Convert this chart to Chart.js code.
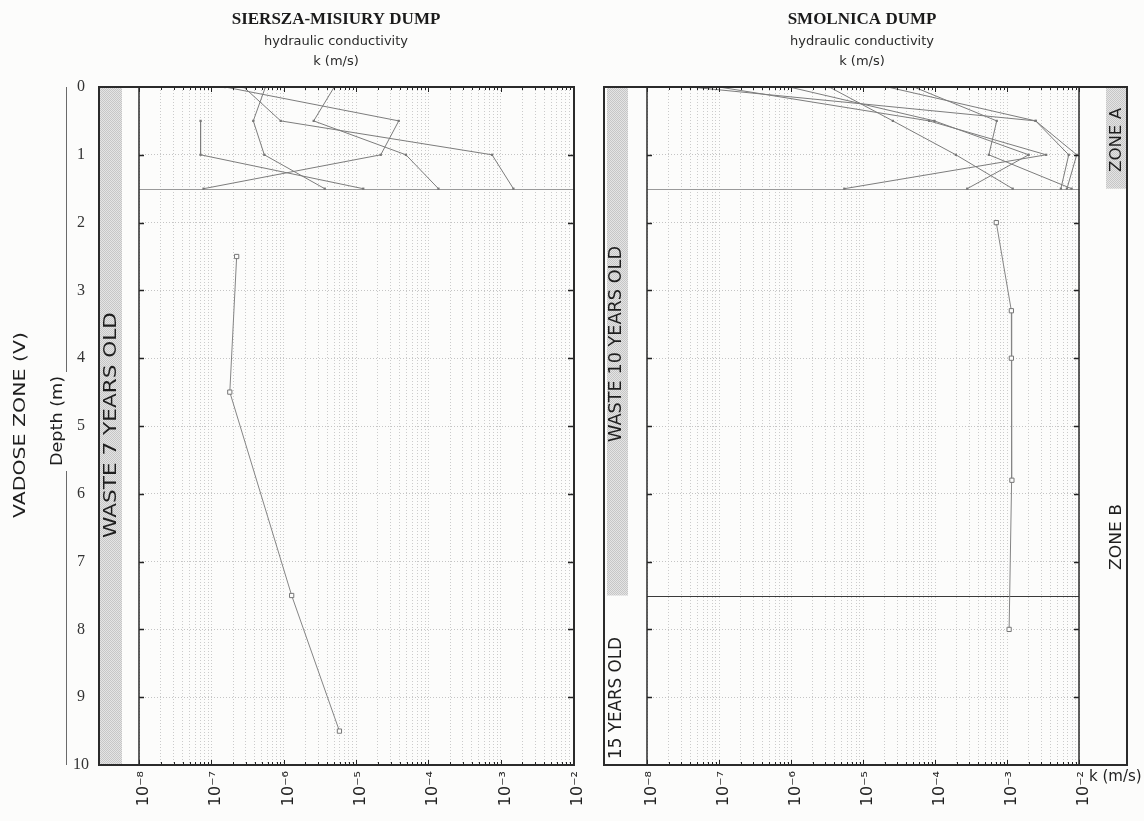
<!DOCTYPE html>
<html>
<head>
<meta charset="utf-8">
<script src="https://cdn.jsdelivr.net/npm/chart.js@4"></script>
<style>
  html, body { margin: 0; padding: 0; background: #fcfcfb; }
  #wrap { position: relative; width: 1144px; height: 821px; overflow: hidden; }
  canvas { position: absolute; top: 0; }
  #siersza { left: 0; }
  #smolnica { left: 590px; }
</style>
</head>
<body>
<div id="wrap">
  <canvas id="siersza" width="590" height="821"></canvas>
  <canvas id="smolnica" width="554" height="821"></canvas>
</div>
<script>
// ---- axis ranges and tick labels ----
const K_MIN = 1e-8;
const K_MAX = 1e-2;
const decadeLabels = ['10\u207B\u2078', '10\u207B\u2077', '10\u207B\u2076', '10\u207B\u2075', '10\u207B\u2074', '10\u207B\u00B3', '10\u207B\u00B2'];
const depthTicks = [0, 1, 2, 3, 4, 5, 6, 7, 8, 9, 10];
const depthLabels = ['0', '1', '2', '3', '4', '5', '6', '7', '8', '9', '10'];

// ---- Siersza-Misiury dump: shallow profiles (depth m -> k m/s) ----
const shallowDepths = [0, 0.5, 1, 1.5];
const sierszaP1 = [1.55e-7, 3.9e-5, 2.2e-5, 7.8e-8];
const sierszaP2 = [null, 7.1e-8, 7.1e-8, 1.26e-5];
const sierszaP3 = [5.6e-7, 3.8e-7, 5.4e-7, 3.7e-6];
const sierszaP4 = [5.0e-6, 2.6e-6, 4.9e-5, 1.38e-4];
const sierszaP5 = [2.8e-7, 9.1e-7, 7.6e-4, 1.5e-3];
// deep borehole
const sierszaDeepDepths = [2.5, 4.5, 7.5, 9.5];
const sierszaDeepK = [2.24e-7, 1.8e-7, 1.29e-6, 5.9e-6];

// ---- Smolnica dump: shallow profiles ----
const smolnicaP1 = [4.0e-8, 2.5e-3, 9.3e-3, 6.8e-3];
const smolnicaP2 = [1.0e-7, 8.3e-5, 3.5e-3, 5.5e-6];
const smolnicaP3 = [9.5e-7, 9.8e-5, 2.0e-3, 2.8e-4];
const smolnicaP4 = [3.4e-6, 2.6e-5, 1.95e-4, 1.2e-3];
const smolnicaP5 = [2.2e-5, 2.5e-3, 7.2e-3, 5.6e-3];
const smolnicaP6 = [5.1e-5, 7.2e-4, 5.6e-4, 7.9e-3];
// deep borehole
const smolnicaDeepDepths = [2.0, 3.3, 4.0, 5.8, 8.0];
const smolnicaDeepK = [7.1e-4, 1.15e-3, 1.15e-3, 1.17e-3, 1.07e-3];

// ---- helpers ----
function toPoints(depths, ks) {
  const pts = [];
  depths.forEach((d, i) => { if (ks[i] != null) pts.push({ x: ks[i], y: d }); });
  return pts;
}

function shallowSet(ks) {
  return {
    data: toPoints(shallowDepths, ks),
    showLine: true,
    borderColor: '#7c7c7c',
    borderWidth: 1,
    pointStyle: 'rect',
    pointRadius: 1.6,
    pointBackgroundColor: '#777',
    pointBorderColor: '#777',
    pointBorderWidth: 0
  };
}

function deepSet(depths, ks) {
  return {
    data: toPoints(depths, ks),
    showLine: true,
    borderColor: '#858585',
    borderWidth: 1,
    pointStyle: 'rect',
    pointRadius: 3,
    pointBackgroundColor: '#fcfcfb',
    pointBorderColor: '#777',
    pointBorderWidth: 1
  };
}

function kAxis() {
  return {
    type: 'logarithmic',
    position: 'bottom',
    min: K_MIN,
    max: K_MAX,
    afterBuildTicks(scale) {
      const t = [];
      for (let e = -8; e <= -2; e++) {
        for (let m = 1; m <= 9; m++) {
          if (e === -2 && m > 1) break;
          t.push({ value: m * Math.pow(10, e), major: m === 1 });
        }
      }
      scale.ticks = t;
    },
    afterFit(scale) {
      scale.height = 56;
      scale.paddingLeft = 0;
      scale.paddingRight = 0;
    },
    ticks: {
      autoSkip: false,
      minRotation: 90,
      maxRotation: 90,
      padding: 6,
      labelOffset: 5,
      color: '#222',
      font: { family: 'DejaVu Sans', size: 16 },
      callback(v) {
        const e = Math.round(Math.log10(v));
        return Math.abs(v / Math.pow(10, e) - 1) < 1e-6 ? decadeLabels[e + 8] : '';
      }
    },
    grid: { color: '#cbcbcb', lineWidth: 1, drawTicks: false },
    border: { display: false, dash: [1, 2] }
  };
}

function depthAxis(showLabels, width) {
  return {
    type: 'linear',
    min: 0,
    max: 10,
    reverse: true,
    afterBuildTicks(scale) { scale.ticks = depthTicks.map(v => ({ value: v })); },
    afterFit(scale) {
      scale.width = width;
      scale.paddingTop = 0;
      scale.paddingBottom = 0;
    },
    ticks: {
      display: showLabels,
      padding: 50,
      crossAlign: 'center',
      color: '#333',
      font: { family: 'Liberation Serif', size: 16 },
      callback: (v, i) => depthLabels[i]
    },
    grid: {
      color: c => (c.tick && (c.tick.value === 0 || c.tick.value === 10)) ? 'rgba(0,0,0,0)' : '#c4c4c4',
      lineWidth: 1,
      drawTicks: false
    },
    border: { display: false, dash: [1, 2] }
  };
}

function stipple(ctx) {
  const c = document.createElement('canvas');
  c.width = 2; c.height = 2;
  const g = c.getContext('2d');
  g.fillStyle = '#e4e4e4'; g.fillRect(0, 0, 2, 2);
  g.fillStyle = '#c6c6c6'; g.fillRect(0, 0, 1, 1); g.fillRect(1, 1, 1, 1);
  return ctx.createPattern(c, 'repeat');
}

// vertical (bottom-to-top) text, optionally stretched along its reading direction to a given length
function vText(ctx, text, cx, cy, font, length) {
  ctx.save();
  ctx.translate(cx, cy);
  ctx.rotate(-Math.PI / 2);
  ctx.font = font;
  ctx.fillStyle = '#1e1e1e';
  ctx.textAlign = 'center';
  ctx.textBaseline = 'middle';
  if (length) {
    const w = ctx.measureText(text).width;
    ctx.scale(length / w, 1);
  }
  ctx.fillText(text, 0, 0);
  ctx.restore();
}

function headings(ctx, cx, title) {
  ctx.save();
  ctx.fillStyle = '#1a1a1a';
  ctx.textAlign = 'center';
  ctx.textBaseline = 'middle';
  ctx.font = 'bold 17px "Liberation Serif"';
  ctx.fillText(title, cx, 20);
  ctx.font = '13px "DejaVu Sans"';
  ctx.fillStyle = '#2a2a2a';
  ctx.fillText('hydraulic conductivity', cx, 42);
  ctx.fillText('k (m/s)', cx, 62);
  ctx.restore();
}

function hLine(ctx, a, y, color, w) {
  ctx.save();
  ctx.strokeStyle = color;
  ctx.lineWidth = w;
  ctx.beginPath();
  ctx.moveTo(a.left, y);
  ctx.lineTo(a.right, y);
  ctx.stroke();
  ctx.restore();
}

// small inward tick marks on all four edges of the plot area
function innerTicks(chart) {
  const { ctx, chartArea: a, scales } = chart;
  ctx.save();
  ctx.strokeStyle = '#222';
  ctx.beginPath();
  depthTicks.forEach(v => {
    if (v === 0 || v === 10) return;
    const y = Math.round(scales.y.getPixelForValue(v)) + 0.5;
    ctx.moveTo(a.left, y); ctx.lineTo(a.left + 5, y);
    ctx.moveTo(a.right, y); ctx.lineTo(a.right - 5, y);
  });
  ctx.lineWidth = 1.5;
  ctx.stroke();
  ctx.beginPath();
  scales.x.ticks.forEach(t => {
    const x = Math.round(scales.x.getPixelForValue(t.value)) + 0.5;
    const len = t.major ? 5 : 3;
    ctx.moveTo(x, a.bottom); ctx.lineTo(x, a.bottom - len);
    ctx.moveTo(x, a.top); ctx.lineTo(x, a.top + len);
  });
  ctx.lineWidth = 1;
  ctx.stroke();
  ctx.restore();
}

function frame(ctx, x0, x1, top, bottom, innerXs) {
  ctx.save();
  ctx.strokeStyle = '#2b2b2b';
  ctx.lineWidth = 2;
  ctx.strokeRect(x0, top, x1 - x0, bottom - top);
  ctx.lineWidth = 1.5;
  ctx.beginPath();
  innerXs.forEach(x => { ctx.moveTo(x, top); ctx.lineTo(x, bottom); });
  ctx.stroke();
  ctx.restore();
}

// ---- left panel decorations ----
const sierszaDecor = {
  id: 'sierszaDecor',
  beforeDraw(chart) {
    const { ctx, scales } = chart;
    ctx.save();
    ctx.fillStyle = '#fcfcfb';
    ctx.fillRect(0, 0, chart.width, chart.height);
    ctx.fillStyle = stipple(ctx);
    const y0 = scales.y.getPixelForValue(0), y1 = scales.y.getPixelForValue(10);
    ctx.fillRect(100, y0, 22, y1 - y0);
    ctx.restore();
  },
  beforeDatasetsDraw(chart) {
    const { ctx, chartArea: a, scales } = chart;
    hLine(ctx, a, Math.round(scales.y.getPixelForValue(1.5)) + 0.5, '#9a9a9a', 1);
  },
  afterDraw(chart) {
    const { ctx, chartArea: a, scales } = chart;
    const top = scales.y.getPixelForValue(0), bottom = scales.y.getPixelForValue(10);
    innerTicks(chart);
    frame(ctx, 99, a.right + 1, top, bottom, [a.left]);
    vText(ctx, 'WASTE 7 YEARS OLD', 111, 425, '18px "DejaVu Sans"', 226);
    vText(ctx, 'VADOSE ZONE (V)', 21, 425, '16px "DejaVu Sans"', 186);
    vText(ctx, 'Depth (m)', 58, 421, '15px "DejaVu Sans"', 90);
    ctx.save();
    ctx.strokeStyle = '#6a6a6a';
    ctx.lineWidth = 1;
    ctx.beginPath();
    ctx.moveTo(66.5, top); ctx.lineTo(66.5, 372);
    ctx.moveTo(66.5, 471); ctx.lineTo(66.5, bottom);
    ctx.stroke();
    ctx.restore();
    headings(ctx, 336, 'SIERSZA-MISIURY DUMP');
  }
};

// ---- right panel decorations ----
const smolnicaDecor = {
  id: 'smolnicaDecor',
  beforeDraw(chart) {
    const { ctx, scales } = chart;
    ctx.save();
    ctx.fillStyle = '#fcfcfb';
    ctx.fillRect(0, 0, chart.width, chart.height);
    ctx.fillStyle = stipple(ctx);
    const y0 = scales.y.getPixelForValue(0);
    const y75 = scales.y.getPixelForValue(7.5);
    const y15 = scales.y.getPixelForValue(1.5);
    ctx.fillRect(17, y0, 21, y75 - y0);
    ctx.fillRect(516, y0, 21, y15 - y0);
    ctx.restore();
  },
  beforeDatasetsDraw(chart) {
    const { ctx, chartArea: a, scales } = chart;
    hLine(ctx, a, Math.round(scales.y.getPixelForValue(1.5)) + 0.5, '#9a9a9a', 1);
    hLine(ctx, a, Math.round(scales.y.getPixelForValue(7.5)) + 0.5, '#3a3a3a', 1.2);
  },
  afterDraw(chart) {
    const { ctx, chartArea: a, scales } = chart;
    const top = scales.y.getPixelForValue(0), bottom = scales.y.getPixelForValue(10);
    innerTicks(chart);
    frame(ctx, 14, 537, top, bottom, [a.left, a.right]);
    vText(ctx, 'WASTE 10 YEARS OLD', 27, 344, '17px "DejaVu Sans"', 196);
    vText(ctx, '15 YEARS OLD', 27, 698, '17px "DejaVu Sans"', 122);
    vText(ctx, 'ZONE A', 527, 140, '16px "DejaVu Sans"', 64);
    vText(ctx, 'ZONE B', 527, 537, '16px "DejaVu Sans"', 66);
    ctx.save();
    ctx.fillStyle = '#222';
    ctx.font = '15px "DejaVu Sans"';
    ctx.textAlign = 'left';
    ctx.textBaseline = 'middle';
    ctx.fillText('k (m/s)', 499, 777);
    ctx.restore();
    headings(ctx, 272, 'SMOLNICA DUMP');
  }
};

const baseOptions = (padRight, yAxis) => ({
  responsive: false,
  animation: false,
  events: [],
  layout: { padding: { top: 87, right: padRight, bottom: 0, left: 0 } },
  scales: { x: kAxis(), y: yAxis },
  plugins: { legend: { display: false }, tooltip: { enabled: false } }
});

new Chart(document.getElementById('siersza'), {
  type: 'scatter',
  data: {
    datasets: [
      shallowSet(sierszaP1), shallowSet(sierszaP2), shallowSet(sierszaP3),
      shallowSet(sierszaP4), shallowSet(sierszaP5),
      deepSet(sierszaDeepDepths, sierszaDeepK)
    ]
  },
  options: baseOptions(17, depthAxis(true, 139)),
  plugins: [sierszaDecor]
});

new Chart(document.getElementById('smolnica'), {
  type: 'scatter',
  data: {
    datasets: [
      shallowSet(smolnicaP1), shallowSet(smolnicaP2), shallowSet(smolnicaP3),
      shallowSet(smolnicaP4), shallowSet(smolnicaP5), shallowSet(smolnicaP6),
      deepSet(smolnicaDeepDepths, smolnicaDeepK)
    ]
  },
  options: baseOptions(65, depthAxis(false, 57)),
  plugins: [smolnicaDecor]
});
</script>
</body>
</html>
